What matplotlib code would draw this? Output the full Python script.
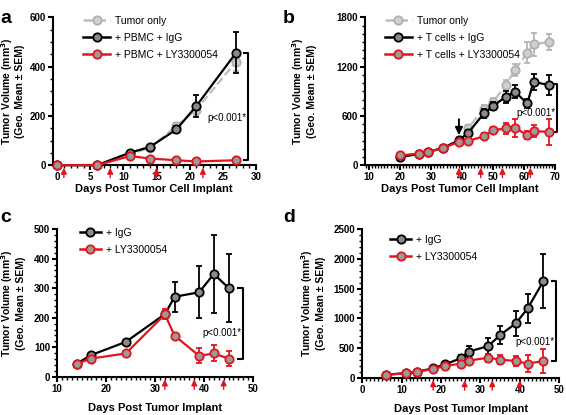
import matplotlib
matplotlib.use("Agg")
import matplotlib.pyplot as plt
from matplotlib.ticker import MultipleLocator
from matplotlib.lines import Line2D

plt.rcParams['font.family'] = ['Liberation Sans', 'DejaVu Sans']

RED = '#e3141c'
# ---------------- data ----------------
# panel a
a_days_tumor = [0, 6, 11, 14, 18, 21, 27]
a_tumor = [0, 0, 45, 70, 160, 225, 420]
a_tumor_sem = [0, 0, 6, 8, 12, 20, 38]
a_days = [0, 6, 11, 14, 18, 21, 27]
a_igg = [0, 0, 51, 74, 145, 240, 456]
a_igg_sem = [0, 0, 5, 7, 14, 45, 83]
a_ly = [0, 0, 37, 27, 20, 15, 20]
a_ly_sem = [0, 0, 4, 3, 3, 2, 3]
a_dose = [1, 8, 15, 22]

# panel b
b_days = [20, 26, 29, 34, 39, 42, 47, 50, 54, 57, 61, 63, 68]
b_tumor = [105, 138, 160, 211, 300, 455, 690, 772, 975, 1158, 1369, 1471, 1503]
b_tumor_sem = [15, 15, 18, 20, 25, 30, 40, 45, 60, 70, 130, 135, 100]
b_igg = [100, 134, 158, 211, 305, 394, 630, 719, 833, 894, 752, 1016, 975]
b_igg_sem = [15, 15, 18, 20, 25, 35, 50, 45, 70, 80, 60, 100, 120]
b_ly = [118, 142, 162, 211, 284, 293, 353, 427, 447, 455, 366, 414, 406]
b_ly_sem = [15, 15, 18, 20, 25, 30, 35, 40, 70, 110, 50, 70, 160]
b_dose = [39, 46, 53, 62]
b_start = 39

# panel c
c_days = [14, 17, 24, 32, 34, 39, 42, 45]
c_igg = [45, 74, 118, 212, 271, 286, 348, 301]
c_igg_sem = [4, 6, 8, 12, 51, 88, 133, 115]
c_ly = [44, 62, 79, 211, 139, 71, 79, 62]
c_ly_sem = [4, 5, 7, 17, 8, 25, 27, 24]
c_dose = [32, 38, 44]

# panel d
d_days = [6, 11, 14, 18, 21, 25, 27, 32, 35, 39, 42, 46]
d_igg = [50, 75, 100, 157, 224, 325, 437, 532, 717, 914, 1166, 1626]
d_igg_sem = [8, 10, 12, 18, 25, 60, 90, 140, 150, 210, 245, 450]
d_ly = [48, 73, 100, 146, 196, 235, 286, 336, 303, 280, 235, 280]
d_ly_sem = [8, 10, 12, 18, 25, 40, 50, 70, 70, 90, 145, 195]
d_dose = [18, 26, 33, 40]

YLABEL = 'Tumor Volume (mm$^\\mathbf{3}$)\n(Geo. Mean ± SEM)'

fig = plt.figure(figsize=(5.66, 4.15), dpi=100)

STYLES = {
    'tumor': dict(color='#bdbdbd', ls='--', mfc='#d0d0d0', mec='#b0b0b0', ecolor='#b5b5b5', zorder=2),
    'igg': dict(color='black', ls='-', mfc='#8a8a8a', mec='black', ecolor='black', zorder=3),
    'ly': dict(color=RED, ls='-', mfc='#9a9a9a', mec=RED, ecolor=RED, zorder=4),
}

def style(ax, xlim, ylim, xmaj, xmin, ymaj, ymin, xlabel, ylab_x):
    ax.set_xlim(*xlim)
    ax.set_ylim(*ylim)
    for s in ['top', 'right']:
        ax.spines[s].set_visible(False)
    for s in ['left', 'bottom']:
        ax.spines[s].set_linewidth(1.5)
    ax.xaxis.set_major_locator(MultipleLocator(xmaj))
    ax.xaxis.set_minor_locator(MultipleLocator(xmin))
    ax.yaxis.set_major_locator(MultipleLocator(ymaj))
    ax.yaxis.set_minor_locator(MultipleLocator(ymin))
    ax.tick_params(which='major', direction='out', length=3.5, width=1.5, labelsize=7, pad=1.5)
    ax.tick_params(which='minor', direction='out', length=2, width=1.0)
    for lab in ax.get_xticklabels() + ax.get_yticklabels():
        lab.set_fontweight('bold')
    ax.set_xlabel(xlabel, fontsize=8, fontweight='bold', labelpad=1)
    ax.set_ylabel(YLABEL, fontsize=7.5, fontweight='bold', linespacing=1.05)
    ax.yaxis.set_label_coords(ylab_x, 0.5)

def series(ax, x, y, e, kind):
    kw = dict(STYLES[kind])
    ax.errorbar(x, y, yerr=e, marker='o', ms=6, mew=1.3, lw=1.6, capsize=2.5,
                elinewidth=1.3, capthick=1.3, clip_on=False, **kw)

def doses(ax, xs):
    for x in xs:
        ax.annotate('', xy=(x, 0.0), xycoords=('data', 'axes fraction'),
                    xytext=(0, -9), textcoords='offset points',
                    arrowprops=dict(arrowstyle='-|>,head_width=0.17,head_length=0.35',
                                    color=RED, lw=1.0, shrinkA=0, shrinkB=1.8),
                    annotation_clip=False)

def bracket(ax, x, ytop, ybot, dx, text_y):
    ax.plot([x - dx, x, x, x - dx], [ytop, ytop, ybot, ybot], color='black', lw=1.5,
            clip_on=False, solid_capstyle='butt')
    ax.text(x - dx * 0.3, text_y, 'p<0.001*', fontsize=7, ha='right', va='center')

def legend(ax, kinds, labels, x, y, hl):
    handles = []
    for k in kinds:
        s = STYLES[k]
        handles.append(Line2D([], [], color=s['color'], ls=s['ls'], lw=1.8, marker='o', ms=6,
                              mew=1.3, mfc=s['mfc'], mec=s['mec']))
    ax.legend(handles, labels, loc='upper left', bbox_to_anchor=(x, y), frameon=False,
              fontsize=7.5, handlelength=hl, handletextpad=0.5, labelspacing=0.68,
              borderaxespad=0, borderpad=0, numpoints=1)

# ---- panel a ----
axa = fig.add_axes([0.093, 0.602, 0.359, 0.356])
series(axa, a_days_tumor, a_tumor, a_tumor_sem, 'tumor')
series(axa, a_days, a_igg, a_igg_sem, 'igg')
series(axa, a_days, a_ly, a_ly_sem, 'ly')
style(axa, (-0.7, 30), (0, 600), 5, 1, 200, 50, 'Days Post Tumor Cell Implant', -0.135)
doses(axa, a_dose)
bracket(axa, 28.8, a_igg[-1], a_ly[-1], 0.7, 190)
legend(axa, ['tumor', 'igg', 'ly'], ['Tumor only', '+ PBMC + IgG', '+ PBMC + LY3300054'],
       0.15, 1.01, 2.6)

# ---- panel b ----
axb = fig.add_axes([0.644, 0.602, 0.337, 0.356])
series(axb, b_days, b_tumor, b_tumor_sem, 'tumor')
series(axb, b_days, b_igg, b_igg_sem, 'igg')
series(axb, b_days, b_ly, b_ly_sem, 'ly')
style(axb, (8.6, 70), (0, 1800), 10, 1, 600, 100, 'Days Post Tumor Cell Implant', -0.25)
doses(axb, b_dose)
bracket(axb, 70.5, b_igg[-1] + 20, b_ly[-1], 1.5, 630)
axb.annotate('', xy=(b_start, 365), xytext=(b_start, 560),
             arrowprops=dict(arrowstyle='-|>,head_width=0.22,head_length=0.45',
                             color='black', lw=1.4, shrinkA=0, shrinkB=0))
legend(axb, ['tumor', 'igg', 'ly'], ['Tumor only', '+ T cells + IgG', '+ T cells + LY3300054'],
       0.105, 1.01, 2.6)

# ---- panel c ----
axc = fig.add_axes([0.101, 0.092, 0.346, 0.356])
series(axc, c_days, c_igg, c_igg_sem, 'igg')
series(axc, c_days, c_ly, c_ly_sem, 'ly')
style(axc, (10, 50), (0, 500), 10, 1, 100, 20, 'Days Post Tumor Implant', -0.16)
axc.xaxis.labelpad = 7
doses(axc, c_dose)
bracket(axc, 48, c_igg[-1], c_ly[-1], 1.2, 147)
legend(axc, ['igg', 'ly'], ['+ IgG', '+ LY3300054'], 0.116, 1.01, 2.0)

# ---- panel d ----
axd = fig.add_axes([0.640, 0.090, 0.348, 0.358])
series(axd, d_days, d_igg, d_igg_sem, 'igg')
series(axd, d_days, d_ly, d_ly_sem, 'ly')
style(axd, (0, 50), (0, 2500), 10, 1, 500, 100, 'Days Post Tumor Implant', -0.185)
axd.xaxis.labelpad = 7
doses(axd, d_dose)
bracket(axd, 49.3, d_igg[-1], d_ly[-1], 1.5, 605)
legend(axd, ['igg', 'ly'], ['+ IgG', '+ LY3300054'], 0.142, 0.96, 2.0)

# panel letters
for lab, x, y in [('a', 0.0, 0.945), ('b', 0.5, 0.945), ('c', 0.0, 0.465), ('d', 0.5, 0.465)]:
    fig.text(x, y, lab, fontsize=14, fontweight='bold', ha='left', va='baseline')

fig.savefig('out.png', dpi=100)
